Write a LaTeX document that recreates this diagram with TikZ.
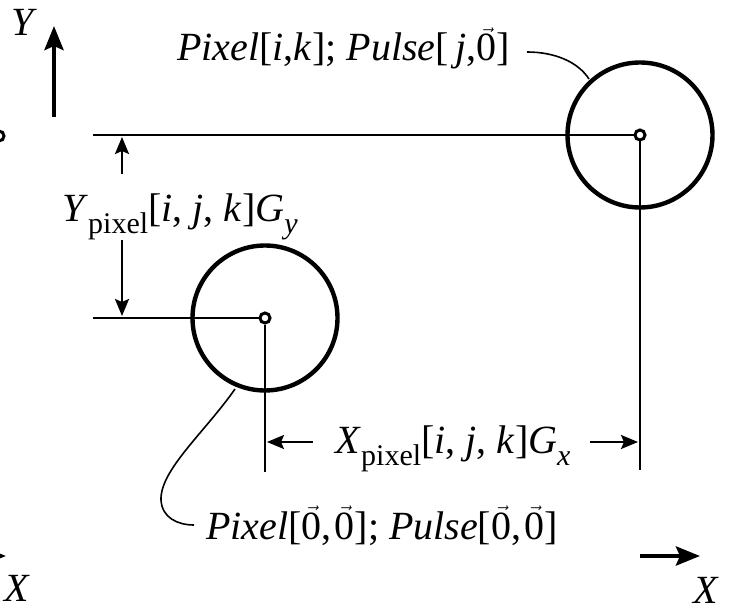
\documentclass[tikz,border=0pt]{standalone}
\usepackage{fontspec}
\setmainfont{Liberation Serif}
\usetikzlibrary{arrows.meta}
\newcommand\vz{\ensuremath{\vec{\mbox{0}}}}
\newcommand\subtx[1]{\raisebox{-0.3em}{\fontsize{30}{30}\selectfont #1}}
\begin{document}
\begin{tikzpicture}[x=1pt,y=-1pt,
  thinline/.style={line width=2.2pt},
  bigcirc/.style={draw,circle,line width=4.4pt,minimum size=145pt,inner sep=0pt},
  ring/.style={draw,circle,line width=3pt,minimum size=10pt,inner sep=0pt,fill=white},
  dimarrow/.style={line width=2.2pt,-{Stealth[length=17pt,width=14pt,inset=3pt]}},
  axisarrow/.style={line width=4.4pt,-{Stealth[length=24pt,width=19pt,inset=4pt]}},
  lbl/.style={inner sep=0pt,font=\fontsize{40}{44}\selectfont},
  leader/.style={line width=1.6pt}]
\useasboundingbox (0,0) rectangle (732,607);
% circles
\node[bigcirc] (cR) at (640,135) {};
\node[bigcirc] (cL) at (265,318) {};
\node[ring] (rR) at (640,135) {};
\node[ring] (rL) at (265,318) {};
\node[ring] (rO) at (-1,136) {};
% reference lines
\coordinate (hT) at (93,135);
\coordinate (hB) at (93,318);
\coordinate (vR) at (640,470);
\coordinate (vL) at (265,472);
\draw[thinline] (hT) -- (rR.west);
\draw[thinline] (hB) -- (rL.west);
\draw[thinline] (rR.south) -- (vR);
\draw[thinline] (rL.south) -- (vL);
% Y dimension
\node[lbl,anchor=base] (ylab) at (180,222) {\textit{Y}\subtx{pixel}[\textit{i}, \textit{j}, \textit{k}]\textit{G}\subtx{\textit{y}}};
\coordinate (ya1) at (122,174);
\coordinate (ya1t) at (122,137);
\coordinate (ya2) at (122,240);
\coordinate (ya2t) at (122,316);
\draw[dimarrow] (ya1) -- (ya1t);
\draw[dimarrow] (ya2) -- (ya2t);
% X dimension
\node[lbl,anchor=base] (xlab) at (453,453) {\textit{X}\subtx{pixel}[\textit{i}, \textit{j}, \textit{k}]\textit{G}\subtx{\textit{x}}};
\coordinate (xa1) at (313,442);
\coordinate (xa1t) at (267,442);
\coordinate (xa2) at (590,442);
\coordinate (xa2t) at (638,442);
\draw[dimarrow] (xa1) -- (xa1t);
\draw[dimarrow] (xa2) -- (xa2t);
% labels with leaders
\node[lbl,anchor=base west] (tlab) at (177,61) {\textit{Pixel}[\textit{i},\textit{k}]; \textit{Pulse}[\,\textit{j},\vz]};
\coordinate (tl1) at (527,52);
\coordinate (tl2) at (589,79);
\draw[leader] (tl1) .. controls (555,52) and (578,62) .. (tl2);
\node[lbl,anchor=base west] (blab) at (206,539) {\textit{Pixel}[\vz,\hspace{3pt}\vz]; \textit{Pulse}[\vz,\hspace{3pt}\vz]};
\coordinate (bl1) at (235,389);
\coordinate (bl2) at (161,500);
\coordinate (bl3) at (194,525);
\draw[leader] (bl1) .. controls (205,432) and (160,470) .. (bl2) .. controls (162,518) and (178,525) .. (bl3);
% axes
\coordinate (yax0) at (54,117);
\coordinate (yax1) at (54,26);
\draw[axisarrow] (yax0) -- (yax1);
\node[lbl,anchor=center] (ylbl) at (24,22) {\textit{Y}};
\coordinate (xr0) at (640,556);
\coordinate (xr1) at (700,556);
\draw[axisarrow] (xr0) -- (xr1);
\node[lbl,anchor=center] (xlblR) at (706,590) {\textit{X}};
\coordinate (xl0) at (-60,556);
\coordinate (xl1) at (6,556);
\draw[axisarrow] (xl0) -- (xl1);
\node[lbl,anchor=center] (xlblL) at (17,588) {\textit{X}};
\end{tikzpicture}
\end{document}
